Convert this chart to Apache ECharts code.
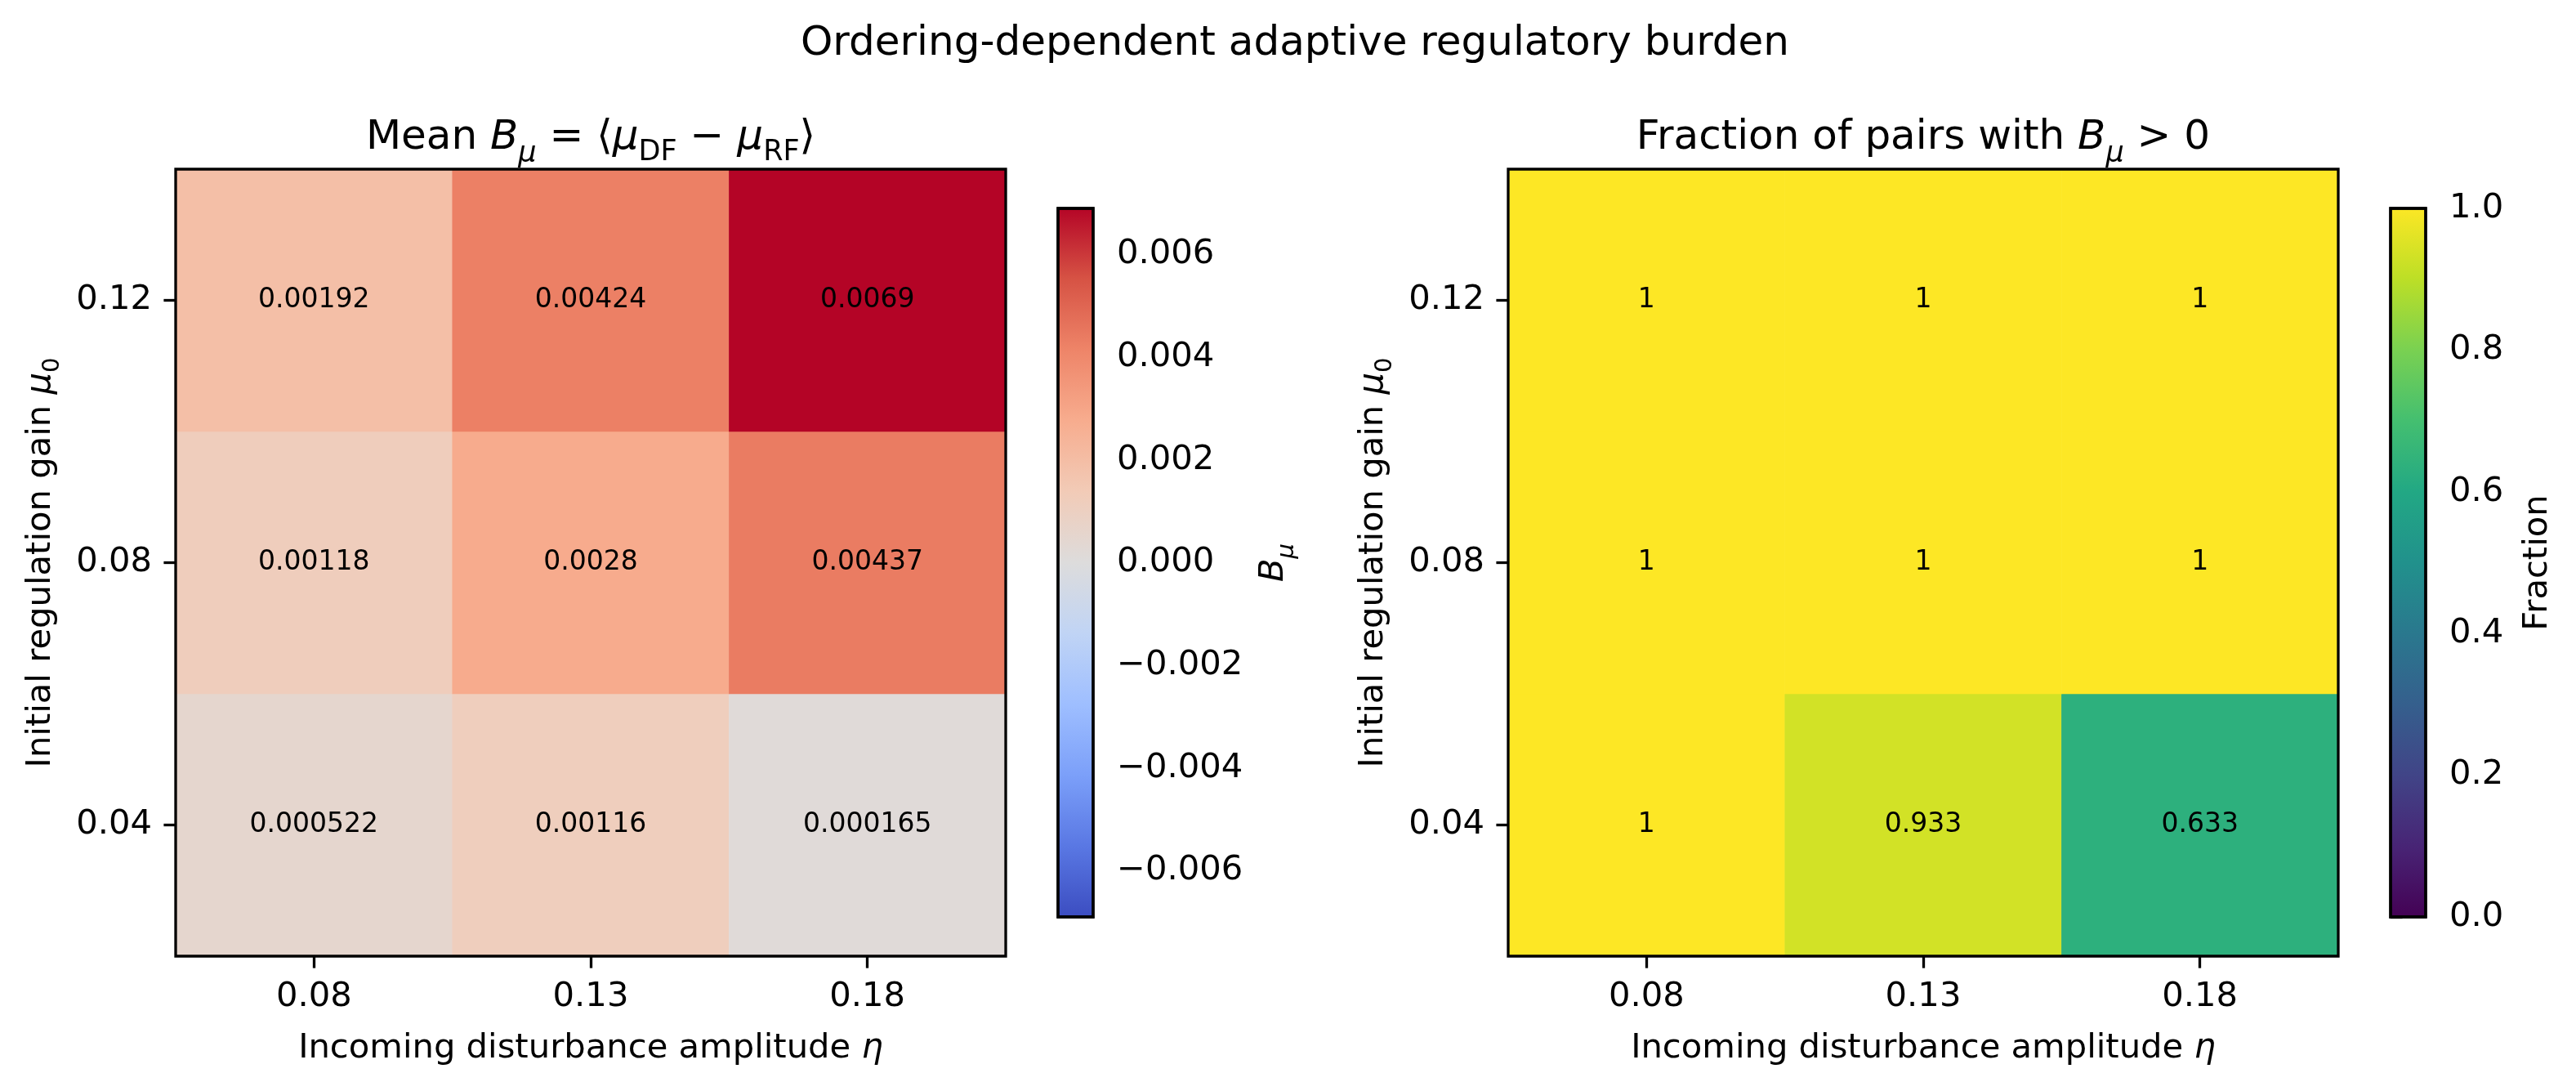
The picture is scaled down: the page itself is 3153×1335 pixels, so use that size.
<!DOCTYPE html>
<html>
<head>
<meta charset="utf-8">
<script src="https://cdn.jsdelivr.net/npm/echarts@6/dist/echarts.min.js"></script>
<style>
  html, body { margin: 0; padding: 0; background: #fff; }
  #chart { width: 3153px; height: 1335px; }
</style>
</head>
<body>
<div id="chart"></div>
<script>
var etaLabels = ['0.08', '0.13', '0.18'];
var mu0Labels = ['0.04', '0.08', '0.12'];

// rows go bottom -> top (mu0 = 0.04, 0.08, 0.12)
var meanB = [
  [0.000522, 0.00116, 0.000165],
  [0.00118, 0.0028, 0.00437],
  [0.00192, 0.00424, 0.0069]
];
var fracPos = [
  [1, 0.933, 0.633],
  [1, 1, 1],
  [1, 1, 1]
];

var bLimit = 0.0069;
var bTicks = [-0.006, -0.004, -0.002, 0, 0.002, 0.004, 0.006];
var fracTicks = [0, 0.2, 0.4, 0.6, 0.8, 1];

var coolwarm = ['#3b4cc0', '#5977e3', '#7b9ff9', '#9ebeff', '#c0d4f5', '#dddcdc',
  '#f2cbb7', '#f7ac8e', '#ee8468', '#d65244', '#b40426'];
var viridis = ['#440154', '#482475', '#414487', '#355f8d', '#2a788e', '#21918c',
  '#22a884', '#44bf70', '#7ad151', '#bddf26', '#fde725'];

var FONT = 'DejaVu Sans';
var LW = 3.3;

function toCells(rows) {
  var out = [];
  rows.forEach(function(row, y) {
    row.forEach(function(v, x) { out.push([x, y, v]); });
  });
  return out;
}

function fmtG(v) {
  return parseFloat(v.toPrecision(3)).toString();
}

function gradStops(cmap) {
  var n = cmap.length;
  return cmap.map(function(c, i) {
    return { offset: i / (n - 1), color: cmap[n - 1 - i] };
  });
}

function richSet(size) {
  var sub = Math.round(size * 0.7);
  return {
    n: { fontFamily: FONT, fontSize: size, color: '#000' },
    i: { fontFamily: FONT, fontSize: size, fontStyle: 'italic', color: '#000' },
    si: { fontFamily: FONT, fontSize: sub, fontStyle: 'italic', color: '#000', padding: [Math.round(size * 0.8), 0, 0, 0] },
    sn: { fontFamily: FONT, fontSize: sub, color: '#000', padding: [Math.round(size * 0.7), 0, 0, 0] }
  };
}

function nameStyle() {
  return { fontFamily: FONT, fontSize: 41.7, color: '#000', rich: richSet(41.7) };
}

var chart = echarts.init(document.getElementById('chart'), null, { renderer: 'canvas' });

var grids = [
  { left: 215, top: 207, width: 1016, height: 963 },
  { left: 1846, top: 207, width: 1016, height: 963 },
  { left: 1295, top: 255, width: 43, height: 867 },
  { left: 2926, top: 255, width: 43, height: 867 }
].map(function(g) {
  return Object.assign({ show: true, z: 10, borderColor: '#000', borderWidth: LW, backgroundColor: 'transparent', containLabel: false }, g);
});

function catX(idx, name) {
  return {
    type: 'category', gridIndex: idx, data: etaLabels,
    axisLine: { show: false },
    axisTick: { show: true, alignWithLabel: true, length: 14.6, lineStyle: { color: '#000', width: LW } },
    axisLabel: { margin: 29, fontFamily: FONT, fontSize: 41.7, color: '#000' },
    splitLine: { show: false },
    name: name, nameLocation: 'middle', nameGap: 92,
    nameTextStyle: nameStyle()
  };
}

function catY(idx, name) {
  return {
    type: 'category', gridIndex: idx, data: mu0Labels,
    axisLine: { show: false },
    axisTick: { show: true, alignWithLabel: true, length: 14.6, lineStyle: { color: '#000', width: LW } },
    axisLabel: { margin: 29, fontFamily: FONT, fontSize: 41.7, color: '#000' },
    splitLine: { show: false },
    name: name, nameLocation: 'middle', nameGap: 136, nameRotate: 90,
    nameTextStyle: nameStyle()
  };
}

function cbX(idx) {
  return { type: 'value', gridIndex: idx, min: 0, max: 1, show: false };
}

function cbY(idx, min, max, ticks, fmt, name, gap) {
  return {
    type: 'value', gridIndex: idx, min: min, max: max, position: 'right',
    axisLine: { show: false },
    splitLine: { show: false },
    axisTick: { show: true, customValues: ticks, length: 14.6, lineStyle: { color: '#000', width: LW } },
    axisLabel: { customValues: ticks, margin: 29, fontFamily: FONT, fontSize: 41.7, color: '#000', formatter: fmt },
    name: name, nameLocation: 'middle', nameGap: gap, nameRotate: 90,
    nameTextStyle: nameStyle()
  };
}

function cbSeries(idx, min, max, cmap) {
  return {
    type: 'custom', xAxisIndex: idx, yAxisIndex: idx, silent: true,
    data: [[0, min, max]],
    encode: { x: 0, y: [1, 2] },
    renderItem: function(params, api) {
      var p0 = api.coord([0, api.value(2)]);
      var p1 = api.coord([1, api.value(1)]);
      return {
        type: 'rect',
        shape: { x: p0[0], y: p0[1], width: p1[0] - p0[0], height: p1[1] - p0[1] },
        style: {
          fill: new echarts.graphic.LinearGradient(0, 0, 0, 1, gradStops(cmap)),
          stroke: '#000', lineWidth: LW
        }
      };
    }
  };
}

function heatSeries(idx, rows) {
  return {
    type: 'heatmap', xAxisIndex: idx, yAxisIndex: idx,
    data: toCells(rows),
    label: {
      show: true, fontFamily: FONT, fontSize: 33, color: '#000',
      formatter: function(p) { return fmtG(p.value[2]); }
    },
    itemStyle: { borderWidth: 0 },
    emphasis: { disabled: true }
  };
}

var option = {
  backgroundColor: '#fff',
  animation: false,
  grid: grids,
  xAxis: [
    catX(0, 'Incoming disturbance amplitude {i|η}'),
    catX(1, 'Incoming disturbance amplitude {i|η}'),
    cbX(2), cbX(3)
  ],
  yAxis: [
    catY(0, 'Initial regulation gain {i|μ}{sn|0}'),
    catY(1, 'Initial regulation gain {i|μ}{sn|0}'),
    cbY(2, -bLimit, bLimit, bTicks, function(v) { return v.toFixed(3).replace('-', '\u2212'); }, '{i|B}{si|μ}', 190),
    cbY(3, 0, 1, fracTicks, function(v) { return v.toFixed(1); }, 'Fraction', 116)
  ],
  visualMap: [
    { show: false, seriesIndex: 0, min: -bLimit, max: bLimit, inRange: { color: coolwarm } },
    { show: false, seriesIndex: 1, min: 0, max: 1, inRange: { color: viridis } }
  ],
  series: [
    heatSeries(0, meanB),
    heatSeries(1, fracPos),
    cbSeries(2, -bLimit, bLimit, coolwarm),
    cbSeries(3, 0, 1, viridis)
  ],
  graphic: [
    {
      type: 'text', x: 1585, y: 54,
      style: { text: 'Ordering-dependent adaptive regulatory burden', fontFamily: FONT, fontSize: 50, fill: '#000', align: 'center', verticalAlign: 'middle' }
    },
    {
      type: 'text', x: 723, y: 169,
      style: {
        text: 'Mean {i|B}{si|μ}{n| = ⟨}{i|μ}{sn|DF}{n| \u2212 }{i|μ}{sn|RF}{n|⟩}',
        rich: richSet(50), fontFamily: FONT, fontSize: 50, fill: '#000', align: 'center', verticalAlign: 'middle'
      }
    },
    {
      type: 'text', x: 2354, y: 169,
      style: {
        text: 'Fraction of pairs with {i|B}{si|μ}{n| > 0}',
        rich: richSet(50), fontFamily: FONT, fontSize: 50, fill: '#000', align: 'center', verticalAlign: 'middle'
      }
    }
  ]
};

chart.setOption(option);
window.addEventListener('resize', chart.resize);
</script>
</body>
</html>
